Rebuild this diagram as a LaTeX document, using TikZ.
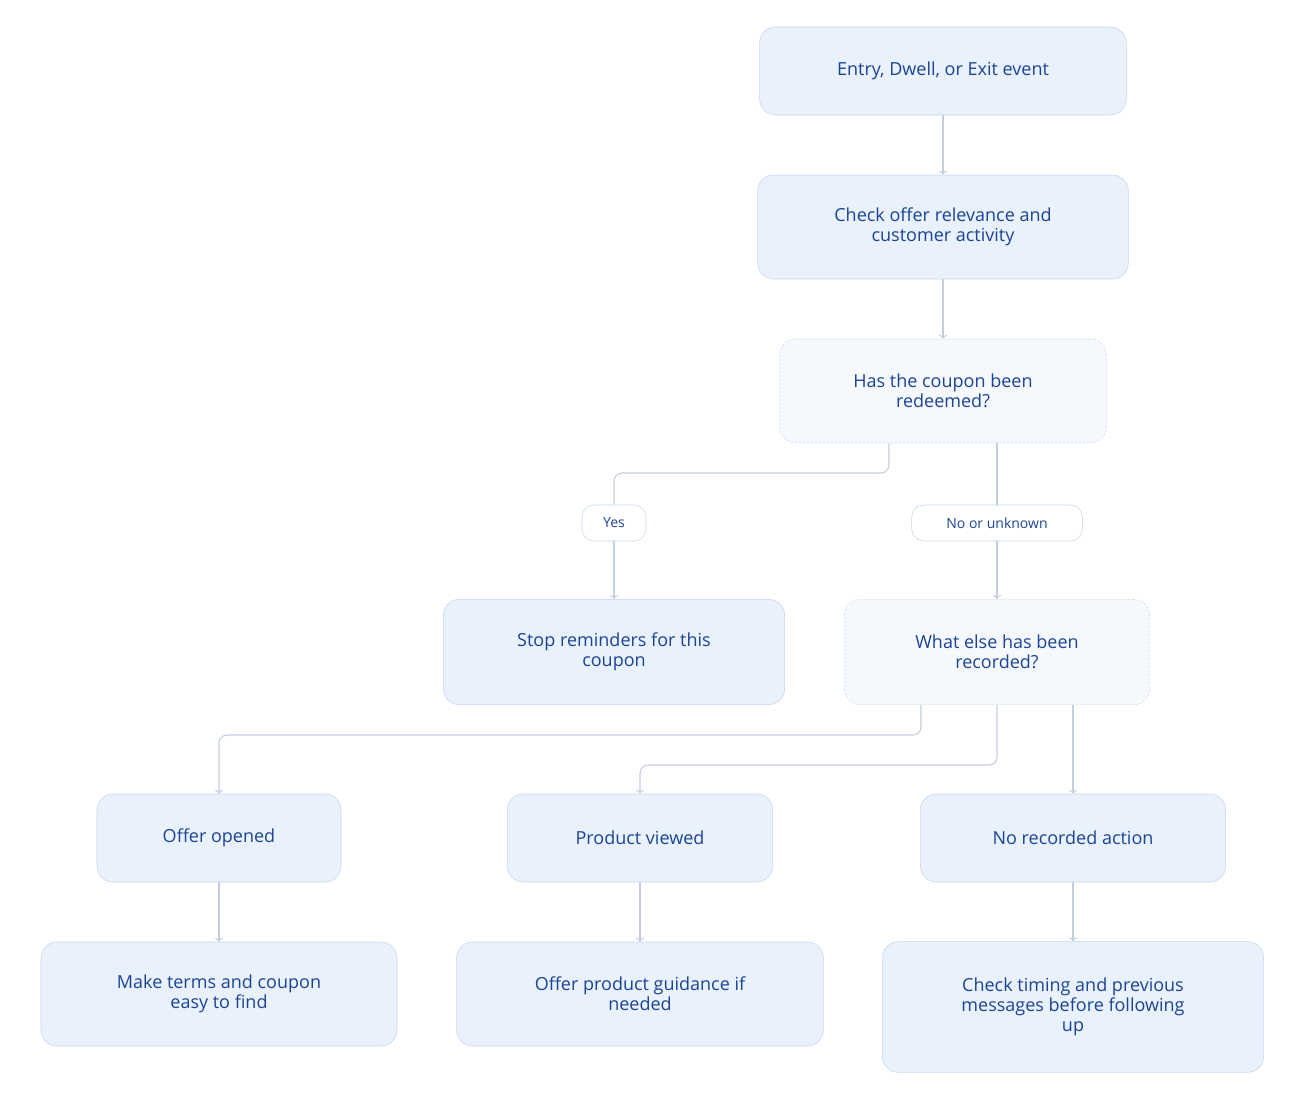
\documentclass[tikz,border=0pt]{standalone}
\usepackage{fontspec}
\setmainfont{Open Sans}
\usetikzlibrary{arrows.meta}
\definecolor{boxfill}{RGB}{232,241,252}
\definecolor{boxline}{RGB}{198,214,236}
\definecolor{askfill}{RGB}{245,248,253}
\definecolor{inkblue}{RGB}{28,68,148}
\definecolor{wire}{RGB}{196,206,222}
\tikzset{
  stepbox/.style={draw=boxline,fill=boxfill,rounded corners=12pt,align=center,text=inkblue,font=\fontsize{13.5}{15}\selectfont,inner sep=0pt},
  askbox/.style={stepbox,fill=askfill,dash pattern=on 1.5pt off 1.5pt},
  pill/.style={draw=boxline,fill=white,rounded corners=9pt,text=inkblue,font=\fontsize{10.5}{12}\selectfont,inner sep=0pt,minimum height=27pt},
  link/.style={draw=wire,line width=0.8pt,rounded corners=6pt,-{To[length=3pt,width=6pt]}},
}
\begin{document}
\begin{tikzpicture}[x=0.75pt,y=-0.75pt]
\useasboundingbox (0,0) rectangle (1311,1114);

% steps
\node[stepbox,minimum width=275pt,minimum height=66pt] (entry) at (943,71) {Entry, Dwell, or Exit event};
\node[stepbox,minimum width=278pt,minimum height=78pt] (check) at (943,227) {Check offer relevance and\\customer activity};
\node[askbox,minimum width=245pt,minimum height=78pt] (coupon) at (943,391) {Has the coupon been\\redeemed?};
\node[pill,minimum width=48pt] (yes) at (614,523) {Yes};
\node[pill,minimum width=128pt] (no) at (997,523) {No or unknown};
\node[stepbox,minimum width=256pt,minimum height=79pt] (stop) at (614,652) {Stop reminders for this\\coupon};
\node[askbox,minimum width=229pt,minimum height=79pt] (what) at (997,652) {What else has been\\recorded?};
\node[stepbox,minimum width=183pt,minimum height=66pt] (opened) at (219,838) {Offer opened};
\node[stepbox,minimum width=199pt,minimum height=66pt] (viewed) at (640,838) {Product viewed};
\node[stepbox,minimum width=229pt,minimum height=66pt] (norec) at (1073,838) {No recorded action};
\node[stepbox,minimum width=267pt,minimum height=78pt] (terms) at (219,994) {Make terms and coupon\\easy to find};
\node[stepbox,minimum width=275pt,minimum height=78pt] (guide) at (640,994) {Offer product guidance if\\needed};
\node[stepbox,minimum width=286pt,minimum height=98pt] (timing) at (1073,1007) {Check timing and previous\\messages before following\\up};

% connectors
\draw[link] (entry) -- (check);
\draw[link] (check) -- (coupon);
\draw[draw=wire,line width=0.8pt,rounded corners=6pt] (coupon.south -| 889,0) |- (614,473) -- (yes.north);
\draw[link] (yes) -- (stop);
\draw[draw=wire,line width=0.8pt] (coupon.south -| no.north) -- (no.north);
\draw[link] (no) -- (what);
\draw[link] (what.south -| 921,0) |- (219,735) -- (opened.north);
\draw[link] (what.south) |- (640,765) -- (viewed.north);
\draw[link] (what.south -| norec.north) -- (norec.north);
\draw[link] (opened) -- (terms);
\draw[link] (viewed) -- (guide);
\draw[link] (norec) -- (timing);
\end{tikzpicture}
\end{document}
